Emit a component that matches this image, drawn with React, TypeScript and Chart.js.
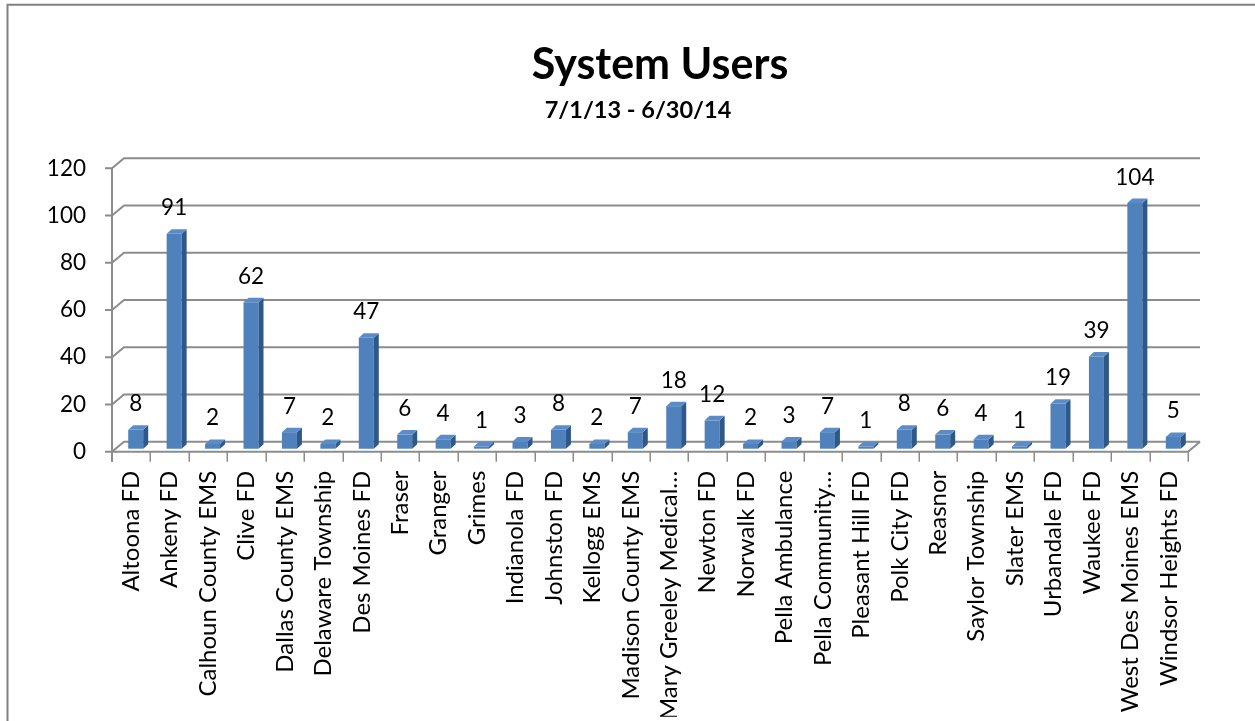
import React, { useEffect, useRef } from "react";
import { Chart, registerables } from "chart.js";

Chart.register(...registerables);

const categories: string[] = [
  "Altoona FD",
  "Ankeny FD",
  "Calhoun County EMS",
  "Clive FD",
  "Dallas County EMS",
  "Delaware Township",
  "Des Moines FD",
  "Fraser",
  "Granger",
  "Grimes",
  "Indianola FD",
  "Johnston FD",
  "Kellogg EMS",
  "Madison County EMS",
  "Mary Greeley Medical…",
  "Newton FD",
  "Norwalk FD",
  "Pella Ambulance",
  "Pella Community…",
  "Pleasant Hill FD",
  "Polk City FD",
  "Reasnor",
  "Saylor Township",
  "Slater EMS",
  "Urbandale FD",
  "Waukee FD",
  "West Des Moines EMS",
  "Windsor Heights FD",
];

const users: number[] = [
  8, 91, 2, 62, 7, 2, 47, 6, 4, 1, 3, 8, 2, 7, 18, 12, 2, 3, 7, 1, 8, 6, 4, 1, 19, 39, 104, 5,
];

const yTicks: number[] = [0, 20, 40, 60, 80, 100, 120];

const titleText = "System Users";
const subtitleText = "7/1/13 - 6/30/14";

const FONT = "Lato, 'Open Sans', sans-serif";
const GRID_COLOR = "#8c8c8c";
const FRONT = "#4F81BD";
const SIDE = "#2E5889";
const TOP = "#5B8CC8";

// 3D geometry
const WALL_DX = 12;
const WALL_DY = -10;
const BAR_DX = 4.5;
const BAR_DY = -3;
const DEPTH_DX = 5;
const DEPTH_DY = -4.5;

const threeDPlugin = {
  id: "threeD",
  beforeDraw(chart: any) {
    const ctx = chart.ctx;
    ctx.save();
    // frame
    ctx.strokeStyle = "#808080";
    ctx.lineWidth = 2;
    ctx.beginPath();
    ctx.moveTo(7.5, chart.height + 5);
    ctx.lineTo(7.5, 4.8);
    ctx.lineTo(chart.width + 5, 4.8);
    ctx.stroke();
    // title
    ctx.fillStyle = "#000";
    ctx.textAlign = "center";
    ctx.textBaseline = "alphabetic";
    ctx.font = `bold 43px ${FONT}`;
    ctx.fillText(titleText, 660, 79);
    ctx.font = `bold 23.5px ${FONT}`;
    ctx.fillText(subtitleText, 638, 117.5);
    ctx.restore();
  },
  beforeDatasetsDraw(chart: any) {
    const ctx = chart.ctx;
    const area = chart.chartArea;
    const y = chart.scales.y;
    ctx.save();
    ctx.strokeStyle = GRID_COLOR;
    ctx.lineWidth = 2;
    ctx.lineCap = "butt";
    // gridlines on side and back wall
    for (const v of yTicks) {
      const py = y.getPixelForValue(v);
      ctx.beginPath();
      ctx.moveTo(area.left - 7, py);
      ctx.lineTo(area.left, py);
      ctx.lineTo(area.left + WALL_DX, py + WALL_DY);
      ctx.lineTo(area.right + WALL_DX, py + WALL_DY);
      ctx.stroke();
    }
    // vertical axis line
    ctx.beginPath();
    ctx.moveTo(area.left, y.getPixelForValue(120));
    ctx.lineTo(area.left, area.bottom + 10);
    ctx.stroke();
    // floor front edge and right side
    const p0 = y.getPixelForValue(0);
    ctx.beginPath();
    ctx.moveTo(area.left, p0);
    ctx.lineTo(area.right, p0);
    ctx.lineTo(area.right + WALL_DX, p0 + WALL_DY);
    ctx.stroke();
    // category ticks
    const n = categories.length;
    const step = (area.right - area.left) / n;
    ctx.lineWidth = 1.5;
    for (let k = 0; k <= n; k++) {
      const px = Math.round(area.left + step * k) + 0.25;
      ctx.beginPath();
      ctx.moveTo(px, p0);
      ctx.lineTo(px, p0 + 10);
      ctx.stroke();
    }
    ctx.restore();
    // shift bars into the middle of the depth
    ctx.save();
    ctx.translate(BAR_DX, BAR_DY);
  },
  afterDatasetsDraw(chart: any) {
    const ctx = chart.ctx;
    const meta = chart.getDatasetMeta(0);
    meta.data.forEach((bar: any) => {
      const { x, y, base, width } = bar.getProps(["x", "y", "base", "width"], true);
      const l = x - width / 2;
      const r = x + width / 2;
      ctx.fillStyle = SIDE;
      ctx.beginPath();
      ctx.moveTo(r, y);
      ctx.lineTo(r + DEPTH_DX, y + DEPTH_DY);
      ctx.lineTo(r + DEPTH_DX, base + DEPTH_DY);
      ctx.lineTo(r, base);
      ctx.closePath();
      ctx.fill();
      ctx.fillStyle = TOP;
      ctx.beginPath();
      ctx.moveTo(l, y);
      ctx.lineTo(l + DEPTH_DX, y + DEPTH_DY);
      ctx.lineTo(r + DEPTH_DX, y + DEPTH_DY);
      ctx.lineTo(r, y);
      ctx.closePath();
      ctx.fill();
    });
    ctx.restore();
    // value labels
    ctx.save();
    ctx.fillStyle = "#000";
    ctx.font = `22.5px ${FONT}`;
    ctx.textAlign = "center";
    ctx.textBaseline = "alphabetic";
    meta.data.forEach((bar: any, i: number) => {
      const { x, y } = bar.getProps(["x", "y"], true);
      ctx.fillText(String(users[i]), x + BAR_DX, y + BAR_DY - 18.5);
    });
    ctx.restore();
  },
};

export default function App() {
  const ref = useRef<HTMLCanvasElement | null>(null);
  useEffect(() => {
    if (!ref.current) return;
    const chart = new Chart(ref.current, {
      type: "bar",
      data: {
        labels: categories,
        datasets: [
          {
            data: users,
            backgroundColor: FRONT,
            borderWidth: 0,
            barPercentage: 0.39,
            categoryPercentage: 1,
            clip: false as any,
          },
        ],
      },
      options: {
        responsive: false,
        animation: false,
        devicePixelRatio: 1,
        layout: { padding: { left: 12, right: 67, top: 168.3, bottom: 4.3 } },
        plugins: {
          legend: { display: false },
          tooltip: { enabled: false },
          title: { display: false },
        },
        scales: {
          x: {
            type: "category",
            offset: true,
            grid: { display: false },
            border: { display: false },
            ticks: {
              autoSkip: false,
              minRotation: 90,
              maxRotation: 90,
              padding: 11,
              color: "#000",
              font: { family: FONT, size: 24 },
            },
            afterFit: (s: any) => {
              s.height = 265;
            },
          },
          y: {
            min: 0,
            max: 120,
            grid: { display: false },
            border: { display: false },
            ticks: {
              stepSize: 20,
              padding: 18,
              color: "#000",
              font: { family: FONT, size: 22.5 },
            },
            afterFit: (s: any) => {
              s.width = 100;
            },
          },
        },
      },
      plugins: [threeDPlugin],
    });
    return () => chart.destroy();
  }, []);
  return (
    <canvas
      ref={ref}
      width={1255}
      height={721}
      style={{ position: "absolute", left: 0, top: 0, display: "block" }}
    />
  );
}
